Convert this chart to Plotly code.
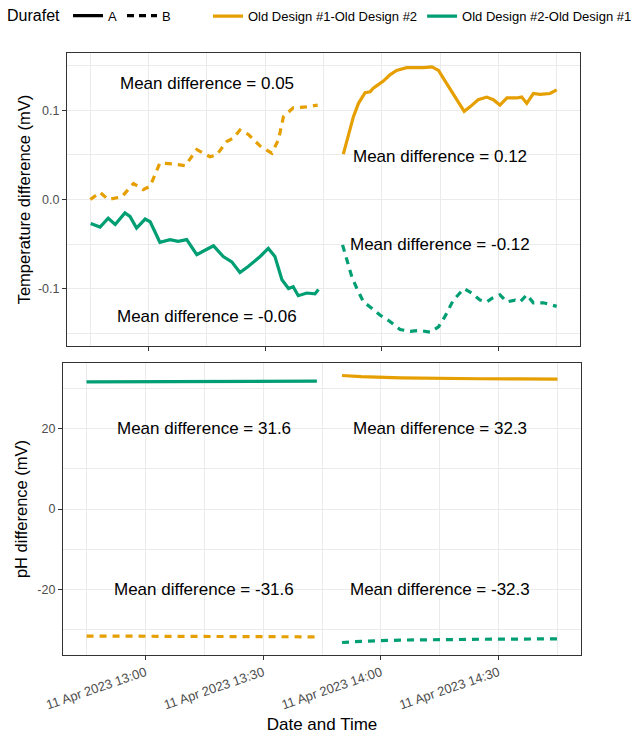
import pandas as pd
import plotly.graph_objects as go

FONT = "Liberation Sans, Arial, Helvetica, sans-serif"
ORANGE = "#E69F00"
GREEN = "#009E73"
BASE = pd.Timestamp("2023-04-11 12:45:00")

# ---- Temperature difference (mV), first period (minutes after 12:45) ----
seg1_orange_B_min = [0, 2.5, 4.6, 8.1, 11.1, 13.6, 15.4, 17.9, 20.9, 24.4, 27.4, 30.8, 32.5,
                     35.1, 36.8, 38.5, 40.7, 43.7, 46.7, 48.4, 49.7, 52.2, 55.7, 58.5]
seg1_orange_B_val = [0.000, 0.008, 0.000, 0.003, 0.018, 0.011, 0.015, 0.041, 0.040, 0.038,
                     0.056, 0.048, 0.050, 0.065, 0.069, 0.078, 0.073, 0.060, 0.052, 0.067,
                     0.093, 0.103, 0.104, 0.106]

seg1_green_A_min = [0.1, 1.6, 2.5, 4.6, 6.4, 8.9, 10.2, 11.9, 14.1, 15.4, 17.9, 20.5, 22.6,
                    24.8, 27.4, 29.5, 31.7, 34.2, 36.4, 38.5, 40.7, 43.7, 45.8, 47.5, 49.3,
                    51.0, 52.2, 53.5, 55.7, 57.8, 58.7]
seg1_green_A_val = [-0.027, -0.030, -0.031, -0.021, -0.028, -0.015, -0.019, -0.032, -0.022,
                    -0.025, -0.048, -0.045, -0.047, -0.045, -0.062, -0.057, -0.052, -0.064,
                    -0.070, -0.082, -0.075, -0.064, -0.055, -0.064, -0.090, -0.100, -0.098,
                    -0.108, -0.105, -0.106, -0.101]

# ---- Temperature difference (mV), second period ----
seg2_orange_A_min = [65.1, 66.4, 67.7, 69.0, 70.7, 72.0, 72.8, 74.1, 75.4, 77.1, 78.8, 81.4,
                     84.0, 85.7, 87.9, 89.6, 91.3, 93.0, 94.7, 96.2, 97.7, 99.8, 102.0,
                     103.7, 105.4, 107.2, 109.7, 111.0, 112.3, 114.0, 115.7, 118.3, 120.0]
seg2_orange_A_val = [0.051, 0.071, 0.093, 0.108, 0.120, 0.121, 0.125, 0.129, 0.133, 0.140,
                     0.145, 0.148, 0.148, 0.148, 0.149, 0.145, 0.133, 0.121, 0.110, 0.099,
                     0.104, 0.112, 0.115, 0.112, 0.106, 0.114, 0.114, 0.115, 0.108, 0.119,
                     0.118, 0.119, 0.123]

seg2_green_B_min = [64.9, 66.0, 67.3, 68.6, 70.3, 72.4, 74.6, 77.1, 79.7, 82.3, 84.8, 87.4,
                    89.6, 91.3, 93.4, 95.1, 96.2, 98.1, 100.3, 102.0, 103.3, 105.4, 107.2,
                    109.3, 110.6, 112.3, 114.0, 116.6, 118.3, 120.0]
seg2_green_B_val = [-0.051, -0.068, -0.087, -0.100, -0.115, -0.122, -0.130, -0.137, -0.146,
                    -0.148, -0.147, -0.149, -0.143, -0.131, -0.113, -0.105, -0.100, -0.105,
                    -0.113, -0.115, -0.111, -0.107, -0.115, -0.113, -0.115, -0.107, -0.116,
                    -0.116, -0.118, -0.120]

# ---- pH difference (mV) ----
ph_seg1_min = [0, 15, 30, 45, 58.7]
ph_seg1_green_A = [31.5, 31.55, 31.6, 31.65, 31.7]
ph_seg1_orange_B = [-31.5, -31.55, -31.6, -31.65, -31.7]
ph_seg2_min = [65.1, 70, 80, 90, 100, 110, 120]
ph_seg2_orange_A = [33.1, 32.8, 32.5, 32.35, 32.3, 32.25, 32.2]
ph_seg2_green_B = [-33.1, -32.8, -32.5, -32.35, -32.3, -32.25, -32.2]

# ---- Annotations ----
ann_time_min = [30, 90]
temp_labels = [("Mean difference = 0.05", 0, 0.130), ("Mean difference = -0.06", 0, -0.131),
               ("Mean difference = 0.12", 1, 0.048), ("Mean difference = -0.12", 1, -0.050)]
ph_labels = [("Mean difference = 31.6", 0, 20), ("Mean difference = -31.6", 0, -20),
             ("Mean difference = 32.3", 1, 20), ("Mean difference = -32.3", 1, -20)]

tick_times = ["2023-04-11 13:00", "2023-04-11 13:30", "2023-04-11 14:00", "2023-04-11 14:30"]
tick_text = ["11 Apr 2023 13:00", "11 Apr 2023 13:30", "11 Apr 2023 14:00", "11 Apr 2023 14:30"]


def t(mins):
    return [BASE + pd.Timedelta(minutes=m) for m in mins]


fig = go.Figure()
W = 3.2
DASH = "7px,6px"


def add(mins, vals, color, dash, xa, ya):
    fig.add_trace(go.Scatter(x=t(mins), y=vals, mode="lines", xaxis=xa, yaxis=ya,
                             line=dict(color=color, width=W, dash=dash), showlegend=False,
                             hoverinfo="skip"))


add(seg1_orange_B_min, seg1_orange_B_val, ORANGE, DASH, "x", "y")
add(seg1_green_A_min, seg1_green_A_val, GREEN, "solid", "x", "y")
add(seg2_orange_A_min, seg2_orange_A_val, ORANGE, "solid", "x", "y")
add(seg2_green_B_min, seg2_green_B_val, GREEN, DASH, "x", "y")
add(ph_seg1_min, ph_seg1_green_A, GREEN, "solid", "x2", "y2")
add(ph_seg1_min, ph_seg1_orange_B, ORANGE, DASH, "x2", "y2")
add(ph_seg2_min, ph_seg2_orange_A, ORANGE, "solid", "x2", "y2")
add(ph_seg2_min, ph_seg2_green_B, GREEN, DASH, "x2", "y2")

# legend entries
fig.add_trace(go.Scatter(x=[None], y=[None], mode="lines", name="A", legend="legend",
                         line=dict(color="black", width=W)))
fig.add_trace(go.Scatter(x=[None], y=[None], mode="lines", name="B", legend="legend",
                         line=dict(color="black", width=W, dash="7px,5px")))
fig.add_trace(go.Scatter(x=[None], y=[None], mode="lines", name="Old Design #1-Old Design #2",
                         legend="legend2", line=dict(color=ORANGE, width=W)))
fig.add_trace(go.Scatter(x=[None], y=[None], mode="lines", name="Old Design #2-Old Design #1",
                         legend="legend2", line=dict(color=GREEN, width=W)))

annotations = []
for txt, i, y in temp_labels:
    annotations.append(dict(text=txt, x=t([ann_time_min[i]])[0], y=y, xref="x", yref="y",
                            showarrow=False, font=dict(size=17, color="black", family=FONT)))
for txt, i, y in ph_labels:
    annotations.append(dict(text=txt, x=t([ann_time_min[i]])[0], y=y, xref="x2", yref="y2",
                            showarrow=False, font=dict(size=17, color="black", family=FONT)))

xrange_ = [BASE - pd.Timedelta(minutes=6), BASE + pd.Timedelta(minutes=126)]
GRID = "#EBEBEB"
BORDER = "#333333"
TICKFONT = dict(size=13, color="#4D4D4D", family=FONT)

common_x = dict(range=xrange_, tickvals=tick_times, ticktext=tick_text, showgrid=True,
                gridcolor=GRID, gridwidth=1.1, ticks="outside", ticklen=4, tickcolor=BORDER,
                tickwidth=1.1, showline=True, linecolor=BORDER, linewidth=1.1, mirror=True,
                zeroline=False, tickfont=TICKFONT, automargin=False,
                minor=dict(dtick=30 * 60 * 1000, tick0="2023-04-11 12:45", showgrid=True,
                           gridcolor=GRID, gridwidth=0.6, ticks=""))
common_y = dict(showgrid=True, gridcolor=GRID, gridwidth=1.1, ticks="outside", ticklen=4,
                tickcolor=BORDER, tickwidth=1.1, showline=True, linecolor=BORDER,
                linewidth=1.1, mirror=True, zeroline=False, automargin=False,
                tickfont=dict(TICKFONT, size=12.5))

fig.update_layout(
    width=639, height=734,
    margin=dict(l=63, r=58, t=53, b=79, autoexpand=False),
    paper_bgcolor="white", plot_bgcolor="white",
    font=dict(family=FONT, color="black"),
    xaxis=dict(common_x, domain=[4 / 518, 517 / 518], anchor="y", showticklabels=False),
    yaxis=dict(common_y, domain=[309 / 602, 1], anchor="x", range=[-0.1645, 0.1645],
               tickvals=[-0.1, 0, 0.1], ticktext=["-0.1", "0.0", "0.1"],
               minor=dict(tickvals=[-0.15, -0.05, 0.05, 0.15], showgrid=True, gridcolor=GRID,
                          gridwidth=0.6, ticks=""),
               title=dict(text="Temperature difference (mV)", font=dict(size=16.5), standoff=3)),
    xaxis2=dict(common_x, domain=[0, 1], anchor="y2", tickangle=-19,
                title=dict(text="Date and Time", font=dict(size=17), standoff=10)),
    yaxis2=dict(common_y, domain=[0, 292 / 602], anchor="x2", range=[-36.2, 36.2],
                tickvals=[-20, 0, 20], ticktext=["-20", "0", "20"],
                minor=dict(tickvals=[-30, -10, 10, 30], showgrid=True, gridcolor=GRID,
                           gridwidth=0.6, ticks=""),
                title=dict(text="pH difference (mV)", font=dict(size=16.5), standoff=5)),
    legend=dict(orientation="h", xref="container", yref="container", x=5 / 639, y=0.978,
                xanchor="left", yanchor="middle", title=dict(text="Durafet", font=dict(size=16)),
                font=dict(size=13), itemwidth=30, tracegroupgap=0, bgcolor="rgba(0,0,0,0)"),
    legend2=dict(orientation="h", xref="container", yref="container", x=208 / 639, y=0.978,
                 xanchor="left", yanchor="middle", font=dict(size=13), itemwidth=30,
                 bgcolor="rgba(0,0,0,0)"),
    annotations=annotations,
)

fig.write_html("out.html")
